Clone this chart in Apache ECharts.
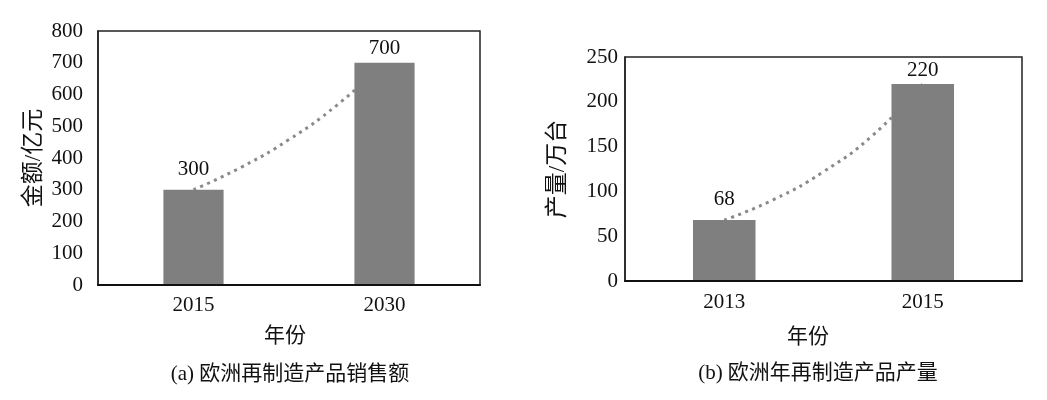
<!DOCTYPE html>
<html><head><meta charset="utf-8">
<script src="https://cdn.jsdelivr.net/npm/echarts@6/dist/echarts.min.js"></script>
<style>html,body{margin:0;padding:0;background:#fff}#c{width:1047px;height:400px}</style>
</head><body><div id="c"></div>
<script>
// Chart (a)
const catsA = ['2015', '2030'];
const valsA = [300, 700];
const trendPosA = [0, 0.25, 0.5, 0.75, 1];
const trendA = [300, 371, 458, 566, 700];
const yMaxA = 800, yStepA = 100;
const yNameA = '金额/亿元';
const xNameA = '年份';
const captionA = '(a) 欧洲再制造产品销售额';
// Chart (b)
const catsB = ['2013', '2015'];
const valsB = [68, 220];
const trendPosB = [0, 0.25, 0.5, 0.75, 1];
const trendB = [68, 91, 122, 163, 220];
const yMaxB = 250, yStepB = 50;
const yNameB = '产量/万台';
const xNameB = '年份';
const captionB = '(b) 欧洲年再制造产品产量';

const FONT = '"Liberation Serif", "Noto Sans CJK SC", serif';
const txt = {fontFamily: FONT, fontSize: 21, color: '#111'};
const chart = echarts.init(document.getElementById('c'), null, {renderer: 'canvas'});

function catAxis(grid, cats, margin) {
  return {type: 'category', gridIndex: grid, data: cats,
    axisLine: {onZero: false, lineStyle: {color: '#111', width: 2}}, axisTick: {show: false},
    axisLabel: Object.assign({margin: margin}, txt), z: 5};
}
function hidX(grid) {
  return {type: 'value', gridIndex: grid, min: -0.5, max: 1.5, show: false};
}
function valAxis(grid, max, step, name, margin, gap) {
  return {type: 'value', gridIndex: grid, min: 0, max: max, interval: step,
    name: name, nameLocation: 'middle', nameGap: gap, nameRotate: 90,
    nameTextStyle: {fontFamily: FONT, fontSize: 23, color: '#111'},
    axisLine: {show: true, onZero: false, lineStyle: {color: '#222', width: 1.5}}, axisTick: {show: false},
    splitLine: {show: false}, axisLabel: Object.assign({margin: margin}, txt)};
}
function bars(xi, yi, vals, dists) {
  return {type: 'bar', xAxisIndex: xi, yAxisIndex: yi, barWidth: '31.5%', z: 3,
    itemStyle: {color: '#7f7f7f'},
    data: vals.map((v, i) => ({value: v, label: {distance: dists[i]}})),
    label: {show: true, position: 'top', fontFamily: FONT, fontSize: 21, color: '#111'}};
}
function trend(xi, yi, pos, vals) {
  return {type: 'line', xAxisIndex: xi, yAxisIndex: yi, smooth: true, showSymbol: false, z: 2,
    lineStyle: {color: '#8a8a8a', width: 3, type: [3, 4.5]},
    data: pos.map((p, i) => [p, vals[i]])};
}

chart.setOption({
  animation: false,
  backgroundColor: '#fff',
  grid: [
    {left: 98, top: 31, width: 382, height: 254, show: true, borderColor: '#222', borderWidth: 1.5, containLabel: false},
    {left: 625, top: 57, width: 397, height: 224, show: true, borderColor: '#222', borderWidth: 1.5, containLabel: false}
  ],
  xAxis: [catAxis(0, catsA, 10), catAxis(1, catsB, 11), hidX(0), hidX(1)],
  yAxis: [valAxis(0, yMaxA, yStepA, yNameA, 15, 53), valAxis(1, yMaxB, yStepB, yNameB, 7, 56)],
  series: [
    trend(2, 0, trendPosA, trendA),
    bars(0, 0, valsA, [10, 4]),
    trend(3, 1, trendPosB, trendB),
    bars(1, 1, valsB, [10, 3])
  ],
  graphic: [
    {type: 'text', x: 285, y: 336, style: {text: xNameA, font: '21px ' + FONT, fill: '#111', textAlign: 'center', textVerticalAlign: 'middle'}},
    {type: 'text', x: 808, y: 337, style: {text: xNameB, font: '21px ' + FONT, fill: '#111', textAlign: 'center', textVerticalAlign: 'middle'}},
    {type: 'text', x: 290, y: 374, style: {text: captionA, font: '21px ' + FONT, fill: '#111', textAlign: 'center', textVerticalAlign: 'middle'}},
    {type: 'text', x: 818, y: 373, style: {text: captionB, font: '21px ' + FONT, fill: '#111', textAlign: 'center', textVerticalAlign: 'middle'}}
  ]
});
</script></body></html>
